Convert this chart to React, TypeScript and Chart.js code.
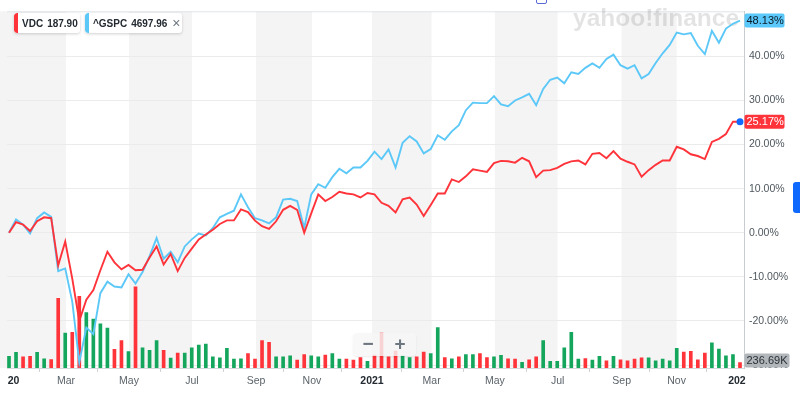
import React, { useEffect, useRef } from "react";
import { Chart, registerables } from "chart.js";

Chart.register(...registerables);

// Weekly % change since first week (Jan 2020 → Jan 2022)
const vdcPct = [
  0, 2.4, 1.85, 0.4, 2.6, 3.5, 3.3, -7.4, -2.0, -10.4,
  -20.0, -15.2, -13.0, -8.5, -4.3, -6.7, -8.3, -7.3, -8.5, -8.4,
  -5.6, -3.1, -7.2, -4.8, -8.7, -5.7, -3.6, -1.5, -0.4, 0.7,
  2.0, 2.8, 2.8, 5.3, 4.7, 2.75, 1.5, 0.9, 2.6, 5.2,
  6.1, 5.2, 0.0, 4.4, 8.7, 7.2, 8.1, 9.3, 8.9, 8.7,
  8.0, 9.0, 8.7, 6.8, 6.1, 4.6, 7.6, 8.0, 6.4, 3.8,
  6.3, 8.9, 8.9, 12.1, 11.5, 12.8, 14.4, 14.1, 13.8, 15.8,
  16.3, 16.2, 15.9, 17.0, 16.2, 12.6, 14.1, 14.2, 14.7, 15.6,
  16.2, 16.4, 15.5, 17.9, 18.1, 16.9, 18.5, 16.8, 16.1, 15.5,
  12.7, 14.2, 15.4, 16.4, 16.4, 19.5, 18.9, 17.8, 17.4, 16.7,
  20.6, 21.3, 22.4, 25.2, 25.17,
];

const gspcPct = [
  0, 3.0, 1.85, -0.15, 3.3, 4.6, 3.6, -8.7, -8.1, -15.6,
  -29.4, -21.5, -23.0, -13.7, -11.1, -12.2, -12.4, -9.4, -11.5, -8.9,
  -5.3, -1.2, -5.9, -4.3, -6.7, -3.1, -1.5, -0.2, -0.6, 1.1,
  3.5, 4.3, 5.0, 8.7, 5.8, 3.3, 2.8, 2.1, 3.5, 7.5,
  7.7, 7.2, 1.1, 8.7, 11.0, 10.2, 12.6, 14.5, 13.5, 14.8,
  14.8, 16.3, 18.4, 16.7, 18.9, 14.8, 20.4, 21.9, 20.7, 18.0,
  19.0, 22.1, 21.1, 23.0, 24.4, 27.8, 29.5, 29.4, 29.4, 31.0,
  29.1, 28.7, 30.0, 30.7, 31.5, 28.9, 32.6, 34.7, 35.2, 33.9,
  36.4, 36.0, 37.4, 38.4, 37.4, 39.4, 40.4, 38.0, 37.2, 38.0,
  35.0, 36.0, 38.5, 40.7, 42.6, 45.4, 45.0, 45.3, 42.4, 40.5,
  45.8, 43.1, 46.3, 47.4, 48.13,
];

// VDC weekly volume, thousands
const volumeK = [
  516, 688, 486, 516, 688, 400, 374, 3053, 1527, 1570,
  3139, 2430, 2150, 1935, 1750, 817, 1204, 718, 3556, 890,
  774, 1204, 774, 430, 658, 658, 890, 1002, 1045, 486,
  443, 860, 387, 400, 632, 387, 1204, 1131, 486, 486,
  529, 344, 589, 529, 486, 572, 632, 387, 387, 344,
  460, 288, 572, 1535, 486, 744, 529, 460, 486, 701,
  632, 1776, 460, 400, 486, 589, 589, 632, 460, 486,
  559, 400, 387, 245, 357, 486, 1204, 288, 288, 890,
  1561, 387, 417, 344, 516, 314, 516, 357, 314, 387,
  443, 443, 314, 387, 314, 860, 701, 731, 357, 658,
  1105, 830, 529, 589, 236.69,
];

// G = up week, R = down week
const volumeDir = (
  "GGRRG" + "GRRGR" + "RGGGG" + "RRGRG" + "GGRGR" + "GGGGG" + "GGGGR" +
  "RRRGG" + "GRRGG" + "RGGRR" + "RGRRR" + "RGGRR" + "GGRGR" + "GGRRG" +
  "GRRGR" + "RGGGG" + "GGRGG" + "RGRRR" + "RGGGG" + "GRRRR" + "GGGGR"
).split("");

// month boundaries expressed in week index
const tickPos = [0.64, 8.11, 17.07, 26.03, 35.14, 43.1, 51.64, 60.13, 69.13, 78.05, 87.16, 94.98, 103.56];
const tickLabels = ["20", "Mar", "May", "Jul", "Sep", "Nov", "2021", "Mar", "May", "Jul", "Sep", "Nov", "202"];
const yTicks = [-30, -20, -10, 0, 10, 20, 30, 40];

const legendSymbols = ["VDC", "^GSPC"];
const legendPrices = ["187.90", "4697.96"];
const lastVolumeLabel = "236.69K";

const RED = "#ff333a";
const BLUE = "#5cc8f8";
const GREEN = "#15a65d";
const FONT = "'Liberation Sans', Arial, Helvetica, sans-serif";

export default function App() {
  const ref = useRef<HTMLCanvasElement>(null);

  useEffect(() => {
    const canvas = ref.current!;
    const isYear = (i: number) => /^\d/.test(tickLabels[i] || "");

    const bandPlugin = {
      id: "bands",
      beforeDraw(chart: any) {
        const { ctx, chartArea: a, scales } = chart;
        const x = scales.x;
        const px = tickPos.map((t) => x.getPixelForValue(t));
        ctx.save();
        ctx.fillStyle = "#f4f4f4";
        for (let k = 0; k + 1 < px.length; k += 2) {
          const s = k === 0 ? 0 : px[k];
          const e = Math.min(px[k + 1], a.right);
          ctx.fillRect(s, a.top, e - s, a.bottom - a.top);
        }
        ctx.restore();
      },
      beforeDatasetsDraw(chart: any) {
        const { ctx, chartArea: a } = chart;
        ctx.save();
        ctx.strokeStyle = "#e1e4e8";
        ctx.lineWidth = 1;
        ctx.beginPath();
        ctx.moveTo(a.left, a.top + 0.5);
        ctx.lineTo(a.right, a.top + 0.5);
        ctx.stroke();
        ctx.fillStyle = "rgba(0,0,0,0.11)";
        ctx.font = `bold 24.5px ${FONT}`;
        ctx.textAlign = "left";
        ctx.textBaseline = "alphabetic";
        ctx.fillText("yahoo!finance", 573, 26);
        ctx.restore();
      },
      afterDraw(chart: any) {
        const { ctx, chartArea: a, scales } = chart;
        const tag = (text: string, yc: number, bg: string, fg: string, w: number) => {
          ctx.save();
          ctx.fillStyle = bg;
          ctx.beginPath();
          (ctx as any).roundRect(a.right + 0.5, yc - 7, w, 14, 2);
          ctx.fill();
          ctx.fillStyle = fg;
          ctx.font = `11px ${FONT}`;
          ctx.textAlign = "left";
          ctx.textBaseline = "middle";
          ctx.fillText(text, a.right + 2.5, yc + 0.5);
          ctx.restore();
        };
        const lg = gspcPct[gspcPct.length - 1];
        const lv = vdcPct[vdcPct.length - 1];
        const lvol = volumeK[volumeK.length - 1];
        tag(lg.toFixed(2) + "%", scales.y.getPixelForValue(lg), "#5ac8fa", "#0b1a26", 40);
        tag(lv.toFixed(2) + "%", scales.y.getPixelForValue(lv), RED, "#ffffff", 40);
        tag(lastVolumeLabel, Math.min(scales.yv.getPixelForValue(lvol), a.bottom - 7.5), "#b1b6bb", "#2b3036", 45);
      },
    };

    const lastIdx = vdcPct.length - 1;
    const chart = new Chart(canvas, {
      type: "line",
      data: {
        datasets: [
          {
            type: "line",
            label: "VDC",
            data: vdcPct.map((v, i) => ({ x: i, y: v })),
            borderColor: RED,
            borderWidth: 1.9,
            pointRadius: (c: any) => (c.dataIndex === lastIdx ? 3.5 : 0),
            pointBackgroundColor: "#0f69ff",
            pointBorderWidth: 0,
            tension: 0,
            yAxisID: "y",
            order: 1,
          },
          {
            type: "line",
            label: "^GSPC",
            data: gspcPct.map((v, i) => ({ x: i, y: v })),
            borderColor: BLUE,
            borderWidth: 1.9,
            pointRadius: 0,
            tension: 0,
            yAxisID: "y",
            order: 2,
          },
          {
            type: "bar",
            label: "Volume",
            data: volumeK.map((v, i) => ({ x: i, y: v })),
            backgroundColor: volumeDir.map((d) => (d === "G" ? GREEN : RED)),
            barThickness: 3,
            yAxisID: "yv",
            order: 3,
          } as any,
        ],
      },
      options: {
        animation: false,
        responsive: false,
        maintainAspectRatio: false,
        events: [],
        layout: { padding: { left: 7, top: 4, right: 0, bottom: 0 } },
        plugins: { legend: { display: false }, tooltip: { enabled: false } },
        scales: {
          x: {
            type: "linear",
            min: -0.285,
            max: 104.57,
            offset: false,
            afterBuildTicks: (s: any) => {
              s.ticks = tickPos.map((v) => ({ value: v }));
            },
            afterFit: (s: any) => {
              s.height = 26;
            },
            ticks: {
              autoSkip: false,
              maxRotation: 0,
              padding: 3,
              callback: (_v: any, i: number) => tickLabels[i],
              font: (c: any) => ({ family: FONT, size: 10.5, weight: isYear(c.index) ? "bold" : "normal" }),
              color: (c: any) => (isYear(c.index) ? "#232a31" : "#5b636a"),
            },
            grid: {
              drawOnChartArea: false,
              drawTicks: true,
              tickLength: 4,
              color: (c: any) => (c.index === 0 ? "rgba(0,0,0,0)" : "#cfd3d7"),
            },
            border: { display: true, color: "#d6d9dc" },
          },
          y: {
            type: "linear",
            position: "right",
            min: -30.67,
            max: 50.22,
            afterBuildTicks: (s: any) => {
              s.ticks = yTicks.map((v) => ({ value: v }));
            },
            afterFit: (s: any) => {
              s.width = 56;
            },
            ticks: {
              padding: 5,
              callback: (v: any) => Number(v).toFixed(2) + "%",
              font: { family: FONT, size: 10.5 },
              color: "#4f575e",
            },
            grid: { color: "#ebebeb", drawTicks: false },
            border: { display: true, color: "#c8ccd0" },
          },
          yv: {
            type: "linear",
            display: false,
            min: 0,
            max: 15650,
          },
        },
      } as any,
      plugins: [bandPlugin],
    });
    return () => chart.destroy();
  }, []);

  const legendColors = [RED, BLUE];
  const legendLefts = [14, 85];
  const legendWidths = [66, 97];

  return (
    <div
      style={{
        position: "fixed",
        left: 0,
        top: 0,
        width: 800,
        height: 394,
        background: "#ffffff",
        overflow: "hidden",
        fontFamily: FONT,
      }}
    >
      <canvas ref={ref} width={800} height={394} style={{ display: "block", width: 800, height: 394 }} />
      {legendSymbols.map((s, i) => (
        <div
          key={s}
          style={{
            position: "absolute",
            left: legendLefts[i],
            top: 13,
            width: legendWidths[i],
            height: 20,
            background: "#ffffff",
            borderRadius: 3,
            boxShadow: "0 1px 3px rgba(0,0,0,0.18)",
            display: "flex",
            alignItems: "center",
            fontSize: 10,
            fontWeight: "bold",
            color: "#232a31",
            whiteSpace: "nowrap",
            overflow: "hidden",
          }}
        >
          <div style={{ width: 4, height: 20, background: legendColors[i], borderRadius: "3px 0 0 3px", flex: "none" }} />
          <span style={{ marginLeft: 4 }}>{s}</span>
          <span style={{ marginLeft: 4 }}>{legendPrices[i]}</span>
          {i === 1 ? (
            <span style={{ marginLeft: 5, color: "#6e7780", fontWeight: "normal", fontSize: 14 }}>×</span>
          ) : null}
        </div>
      ))}
      <div
        style={{
          position: "absolute",
          left: 353,
          top: 333,
          width: 63,
          height: 23,
          background: "rgba(246,246,246,0.82)",
          borderRadius: 4,
          boxShadow: "0 1px 2px rgba(0,0,0,0.08)",
        }}
      >
        <span
          style={{
            position: "absolute",
            left: 6,
            top: 0,
            width: 18,
            textAlign: "center",
            lineHeight: "22px",
            fontSize: 19,
            fontWeight: "bold",
            color: "#6e7780",
          }}
        >
          −
        </span>
        <span
          style={{
            position: "absolute",
            left: 38,
            top: 0,
            width: 18,
            textAlign: "center",
            lineHeight: "22px",
            fontSize: 19,
            fontWeight: "bold",
            color: "#6e7780",
          }}
        >
          +
        </span>
      </div>
      <div
        style={{
          position: "absolute",
          left: 793,
          top: 182,
          width: 7,
          height: 31,
          background: "#0f69ff",
          borderRadius: "3px 0 0 3px",
        }}
      />
      <div
        style={{
          position: "absolute",
          left: 536,
          top: -3,
          width: 9,
          height: 5,
          border: "1.5px solid #5a6ad6",
          borderRadius: 2,
          background: "#ffffff",
        }}
      />
    </div>
  );
}
